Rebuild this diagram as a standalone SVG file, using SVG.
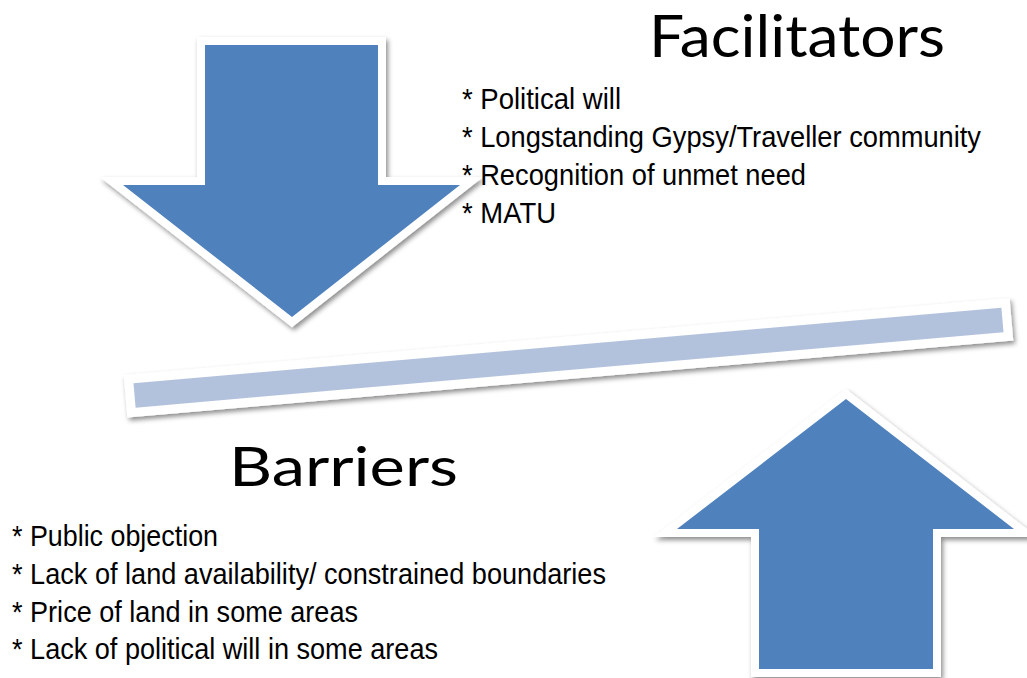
<svg xmlns="http://www.w3.org/2000/svg" width="1027" height="678" viewBox="0 0 1027 678">
  <defs>
    <filter id="shadow" x="-10%" y="-10%" width="120%" height="130%">
      <feDropShadow dx="2" dy="3" stdDeviation="2.5" flood-color="#000" flood-opacity="0.45"/>
    </filter>
  </defs>
  <style>
    .arrow { fill: #4F81BD; stroke: #FFFFFF; stroke-width: 16; stroke-linejoin: miter; stroke-miterlimit: 10; paint-order: stroke; }
    .bar { fill: #B3C2DC; stroke: #FFFFFF; stroke-width: 18; stroke-linejoin: miter; paint-order: stroke; }
    .title { font-family: Lato, "Open Sans", sans-serif; fill: #000; }
    .item { font-family: "Liberation Sans", Arial, sans-serif; font-size: 29.5px; fill: #000; }
  </style>
  <rect width="1027" height="678" fill="#FFFFFF"/>
  <g id="down-arrow" filter="url(#shadow)">
    <polygon class="arrow" points="205,45 378,45 378,185 460,185 292,317 123,185 205,185"/>
  </g>
  <g id="up-arrow" filter="url(#shadow)">
    <polygon class="arrow" points="846,399 1014,529 933,529 933,669 759,669 759,529 677,529"/>
  </g>
  <g id="balance-bar" filter="url(#shadow)">
    <g transform="translate(568.5,357.75) rotate(-4.97)">
      <rect class="bar" x="-435.6" y="-12.25" width="871.2" height="24.5"/>
    </g>
  </g>
  <g id="facilitators">
    <text class="title" x="649" y="57" font-size="58" textLength="296" lengthAdjust="spacingAndGlyphs">Facilitators</text>
    <text class="item" x="462" y="109" textLength="159" lengthAdjust="spacingAndGlyphs">* Political will</text>
    <text class="item" x="462" y="147" textLength="519" lengthAdjust="spacingAndGlyphs">* Longstanding  Gypsy/Traveller community</text>
    <text class="item" x="462" y="185" textLength="344" lengthAdjust="spacingAndGlyphs">* Recognition of unmet need</text>
    <text class="item" x="462" y="223" textLength="94" lengthAdjust="spacingAndGlyphs">* MATU</text>
  </g>
  <g id="barriers">
    <text class="title" x="229" y="486" font-size="54" textLength="229" lengthAdjust="spacingAndGlyphs">Barriers</text>
    <text class="item" x="12" y="546" textLength="206" lengthAdjust="spacingAndGlyphs">* Public objection</text>
    <text class="item" x="12" y="584" textLength="594" lengthAdjust="spacingAndGlyphs">* Lack of land availability/ constrained boundaries</text>
    <text class="item" x="12" y="622" textLength="346" lengthAdjust="spacingAndGlyphs">* Price of land in some areas</text>
    <text class="item" x="12" y="659" textLength="426" lengthAdjust="spacingAndGlyphs">* Lack of political will in some areas</text>
  </g>
</svg>
